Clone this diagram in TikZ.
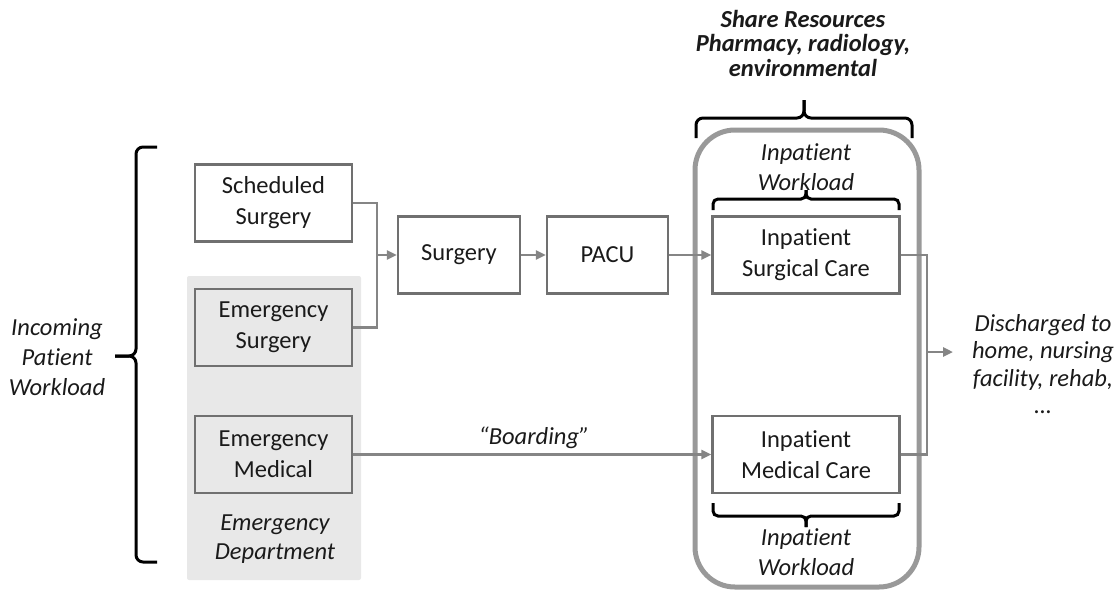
\documentclass[tikz,border=0pt]{standalone}
\usepackage{fontspec}
\setmainfont[Ligatures=NoCommon]{Carlito}
\usetikzlibrary{arrows.meta}
\definecolor{boxgray}{HTML}{707070}
\definecolor{conngray}{HTML}{858585}
\definecolor{roundgray}{HTML}{999999}
\definecolor{edgray}{HTML}{E8E8E8}
\definecolor{txt}{HTML}{1A1A1A}
\newcommand\fsz{\fontsize{24.5}{31}\selectfont}
\begin{document}
\begin{tikzpicture}[x=1pt,y=-1pt,
  box/.style={draw=boxgray, line width=2.2pt, minimum height=77pt, align=center, inner sep=0pt, font=\fsz, text=txt},
  conn/.style={draw=conngray, line width=2.8pt},
  arr/.style={conn, -{Triangle[length=10pt,width=9pt]}},
  lbl/.style={align=center, text=txt, font=\fontsize{24.5}{#1}\selectfont\itshape},
  lbl/.default=30,
  brc/.style={draw=black, line width=3pt, rounded corners=7pt}]
\useasboundingbox (0,0) rectangle (1118,590);
% emergency department background
\fill[edgray, rounded corners=2pt] (187,276) rectangle (361,580);
% inpatient rounded container
\draw[roundgray, line width=5pt, rounded corners=40pt] (695,130) rectangle (919,587);

% boxes
\node[box, minimum width=157pt] (sched) at (273.5,203) {Scheduled\\Surgery};
\node[box, minimum width=157pt] (esurg) at (273.5,327.5) {Emergency\\Surgery};
\node[box, minimum width=157pt] (emed) at (273.5,454.5) {Emergency\\Medical};
\node[box, minimum width=122pt] (surg) at (459,255) {Surgery};
\node[box, minimum width=121pt] (pacu) at (607.5,255) {PACU};
\node[box, minimum width=187pt] (sc) at (806,255) {Inpatient\\Surgical Care};
\node[box, minimum width=187pt] (mc) at (806,454.5) {Inpatient\\Medical Care};

% labels
\node[lbl] (inc) at (57,357) {Incoming\\Patient\\Workload};
\node[lbl=29] (ed) at (275,539) {Emergency\\Department};
\node[lbl] (board) at (534,438) {“Boarding”};
\node[lbl] (iwtop) at (806,167) {Inpatient\\Workload};
\node[lbl] (iwbot) at (806,552) {Inpatient\\Workload};
\node[lbl=27.5] (dis) at (1043,364) {Discharged to\\home, nursing\\facility, rehab,\\…};
\node[align=center, text=txt, font=\fontsize{24.5}{24.5}\selectfont\bfseries\itshape] (share) at (803,43) {Share Resources\\Pharmacy, radiology,\\environmental};

% braces
\draw[brc] (157,147) -- (136,147) -- (136,356) -- (115,356);
\draw[brc] (157,562) -- (136,562) -- (136,356) -- (115,356);
\draw[brc] (696,138) -- (696,118) -- (804,118) -- (804,100);
\draw[brc] (912,138) -- (912,118) -- (804,118) -- (804,100);
\draw[brc, rounded corners=5pt] (713,210) -- (713,199) -- (806,199) -- (806,190);
\draw[brc, rounded corners=5pt] (899,210) -- (899,199) -- (806,199) -- (806,190);
\draw[brc, rounded corners=5pt] (713,503) -- (713,516) -- (806,516) -- (806,527);
\draw[brc, rounded corners=5pt] (899,503) -- (899,516) -- (806,516) -- (806,527);

% connectors
\coordinate (jx) at (377,255);
\draw[conn] (sched.east) -| (jx);
\draw[conn] (esurg.east) -| (jx);
\draw[arr] (jx) -- (surg.west);
\draw[arr] (surg.east) -- (pacu.west);
\draw[arr] (pacu.east) -- (sc.west);
\draw[arr] (emed.east) -- (mc.west);
\coordinate (jr) at (927,352);
\coordinate (dend) at (953,352);
\draw[conn] (sc.east) -| (jr);
\draw[conn] (mc.east) -| (jr);
\draw[arr] (jr) -- (dend);
\end{tikzpicture}
\end{document}
